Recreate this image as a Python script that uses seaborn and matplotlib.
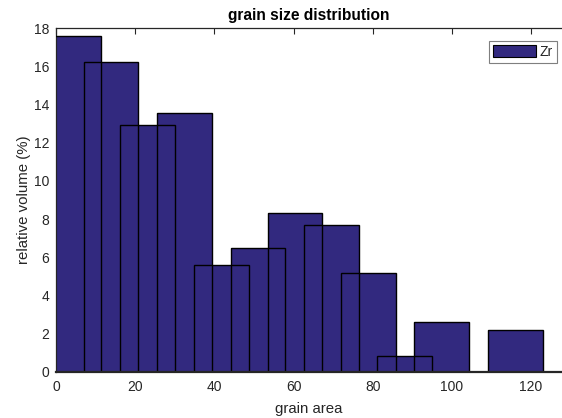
import matplotlib
matplotlib.use("Agg")
import matplotlib.pyplot as plt
from matplotlib.patches import Patch
import seaborn as sns
import pandas as pd

# grain area bin centres and relative volume per bin
grain_area = [4.55, 13.85, 23.15, 32.5, 41.8, 51.05, 60.35, 69.6, 78.9, 88.1, 97.4, 116.0]
rel_volume = [17.6, 16.23, 12.93, 13.54, 5.58, 6.48, 8.30, 7.67, 5.16, 0.81, 2.60, 2.17]
x_ticks = [0, 20, 40, 60, 80, 100, 120]
y_ticks = [0, 2, 4, 6, 8, 10, 12, 14, 16, 18]
series_name = "Zr"

bar_color = "#32297f"
text_color = "#262626"

df = pd.DataFrame({"area": grain_area, "volume": rel_volume})

sns.set_style("white")
plt.rcParams["font.family"] = ["Liberation Sans", "DejaVu Sans"]

fig = plt.figure(figsize=(5.62, 4.18), dpi=100)
ax = fig.add_axes([56 / 562, 1 - 371.7 / 418, 506 / 562, 343.4 / 418])

# filled bars first, then all outlines on top so overlaps stay visible
sns.barplot(data=df, x="area", y="volume", native_scale=True, width=1.5,
            color=bar_color, saturation=1, linewidth=0, ax=ax, zorder=2)
sns.barplot(data=df, x="area", y="volume", native_scale=True, width=1.5,
            fill=False, edgecolor="black", linewidth=1.0, ax=ax, zorder=3)

ax.set_xlim(0, 127.8)
ax.set_ylim(0, 18)
ax.set_xticks(x_ticks)
ax.set_yticks(y_ticks)
ax.tick_params(axis="both", labelsize=10, colors=text_color, direction="in",
               length=4, width=0.8, pad=4, top=True, bottom=False, left=False)
ax.tick_params(axis="x", labelbottom=True, labeltop=False, pad=6)
ax.tick_params(axis="y", pad=5)
for lbl in ax.get_xticklabels() + ax.get_yticklabels():
    lbl.set_color(text_color)

for side in ("top", "left", "bottom"):
    ax.spines[side].set_visible(True)
    ax.spines[side].set_color("#262626")
ax.spines["right"].set_visible(False)
ax.spines["top"].set_linewidth(0.9)
ax.spines["left"].set_linewidth(0.9)
ax.spines["bottom"].set_linewidth(1.6)
ax.spines["bottom"].set_zorder(4)

ax.set_xlabel("grain area", fontsize=10.8, color=text_color, labelpad=6)
ax.set_ylabel("relative volume (%)", fontsize=10.8, color=text_color, labelpad=2)
ax.set_title("grain size distribution", fontsize=11.2, fontweight="bold",
             color="black", pad=6)

handle = Patch(facecolor=bar_color, edgecolor="black", linewidth=0.8, label=series_name)
leg = ax.legend(handles=[handle], loc="upper right",
                bbox_to_anchor=(0.990, 0.964), borderaxespad=0,
                fontsize=10, handlelength=3.1, handleheight=0.95,
                handletextpad=0.25, borderpad=0.3, fancybox=False,
                framealpha=1, edgecolor="#7f7f7f")
leg.get_frame().set_linewidth(0.8)

fig.savefig("out.png", dpi=100)
